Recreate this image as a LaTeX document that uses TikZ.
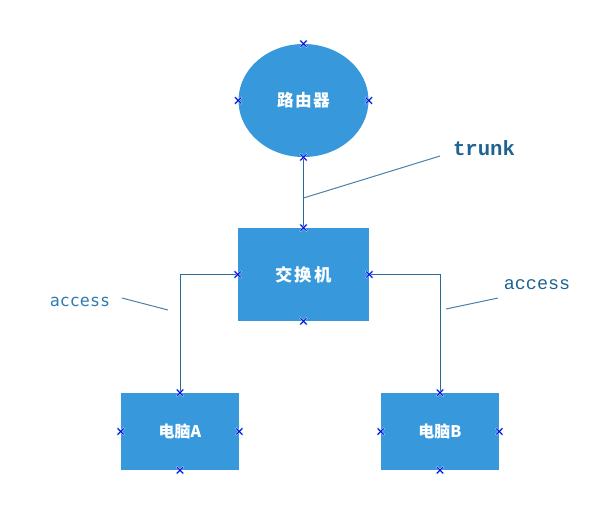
\documentclass[tikz,border=0pt]{standalone}
\usepackage{fontspec}
\usetikzlibrary{shapes.geometric}
\newfontfamily\cjkf{Noto Sans CJK SC}
\newfontfamily\monof{Liberation Mono}
\newfontfamily\dmono{DejaVu Sans Mono}
\definecolor{fillblue}{HTML}{3798DB}
\definecolor{linec}{HTML}{2A6A9A}
\definecolor{labelc}{HTML}{1F6391}
\definecolor{labelb}{HTML}{2E7DB2}
\tikzset{
  base/.style={fill=fillblue,draw=none,inner sep=0pt,text=white},
  boxn/.style={base,rectangle},
  link/.style={draw=linec,line width=0.75pt,line join=miter},
  callout/.style={draw=linec!85!white,line width=0.75pt},
  lab/.style={inner sep=0pt,text=labelc},
}
\newcommand{\hmark}[1]{%
  \draw[blue!25!white!85!cyan,line width=1.5pt] ([shift={(-3.5,-3.5)}]#1) -- ([shift={(3.5,3.5)}]#1) ([shift={(-3.5,3.5)}]#1) -- ([shift={(3.5,-3.5)}]#1);
  \draw[blue!85!black,line width=0.6pt] ([shift={(-3,-3)}]#1) -- ([shift={(3,3)}]#1) ([shift={(-3,3)}]#1) -- ([shift={(3,-3)}]#1);
}
\begin{document}
\begin{tikzpicture}[x=0.75pt,y=-0.75pt]
\useasboundingbox (0,0) rectangle (602,518);
\node[base,ellipse,minimum width=97.5pt,minimum height=84.75pt,font=\cjkf\bfseries\fontsize{12.5pt}{15pt}\selectfont] (router) at (303.5,100.5) {路\kern1pt 由\kern1pt 器};
\node[boxn,minimum width=98.25pt,minimum height=69.75pt,font=\cjkf\bfseries\fontsize{13pt}{16pt}\selectfont] (switch) at (303.5,274.5) {交\kern1.5pt 换\kern1.5pt 机};
\node[boxn,minimum width=88.5pt,minimum height=57.75pt,font=\cjkf\bfseries\fontsize{12pt}{15pt}\selectfont] (pca) at (180,431.5) {电脑A};
\node[boxn,minimum width=88.5pt,minimum height=57.75pt,font=\cjkf\bfseries\fontsize{12pt}{15pt}\selectfont] (pcb) at (440,431.5) {电脑B};
\draw[link] (router.south) -- (switch.north);
\draw[link] (switch.west) -| (pca.north);
\draw[link] (switch.east) -| (pcb.north);
\node[lab,anchor=center,font=\monof\bfseries\fontsize{15.5pt}{18pt}\selectfont] (trunklab) at (484,148) {trunk};
\node[lab,anchor=center,font=\monof\fontsize{13.8pt}{16pt}\selectfont,text=labelc] (accr) at (537,284.5) {access};
\node[lab,anchor=center,font=\dmono\fontsize{12.5pt}{15pt}\selectfont,text=labelb] (accl) at (80,302) {access};
\coordinate (t1) at (303.5,198);
\coordinate (t2) at (440,156);
\coordinate (l1) at (122,298);
\coordinate (l2) at (168,310);
\coordinate (r1) at (446,309);
\coordinate (r2) at (498,298);
\draw[callout] (t1) -- (t2);
\draw[callout] (l1) -- (l2);
\draw[callout] (r1) -- (r2);
\foreach \n in {router,switch,pca,pcb}{
  \foreach \a in {north,south,east,west}{
    \hmark{\n.\a}
  }
}
\end{tikzpicture}
\end{document}
